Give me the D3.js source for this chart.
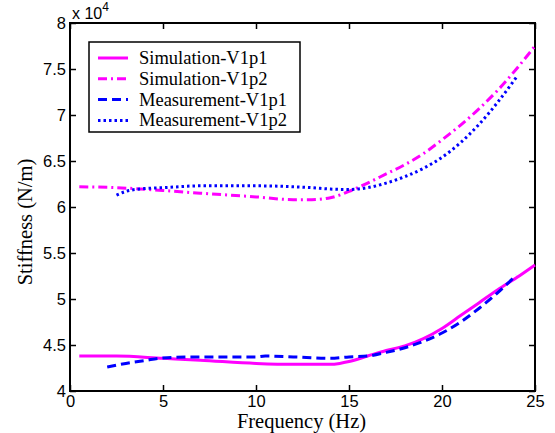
<!DOCTYPE html>
<html>
<head>
<meta charset="utf-8">
<script src="https://cdn.jsdelivr.net/npm/d3@7"></script>
<style>
  body { margin: 0; background: #fff; }
  .tick text { font-family: "Liberation Sans", Arial, sans-serif; font-size: 16.5px; fill: #000; }
</style>
</head>
<body>
<div id="chart"></div>
<script>
// frequency (Hz) and stiffness (x 1e4 N/m)
var simV1p1X = [0.5, 2.5, 5, 7, 10, 12, 14, 14.5, 15, 16, 17, 18, 19, 20, 21, 22, 23, 24, 25];
var simV1p1Y = [4.38, 4.38, 4.355, 4.335, 4.30, 4.29, 4.29, 4.30, 4.32, 4.38, 4.44, 4.49, 4.57, 4.68, 4.82, 4.96, 5.10, 5.23, 5.37];

var simV1p2X = [0.5, 2.5, 5, 7, 10, 12, 13, 14, 15, 16, 17, 18, 19, 20, 21, 22, 23, 24, 25];
var simV1p2Y = [6.22, 6.21, 6.18, 6.15, 6.11, 6.08, 6.08, 6.10, 6.17, 6.26, 6.36, 6.46, 6.58, 6.73, 6.89, 7.07, 7.27, 7.50, 7.75];

var measV1p1X = [2, 3, 4, 5, 7, 10, 10.5, 12, 14, 15, 16, 17, 18, 19, 20, 21, 22, 23, 24];
var measV1p1Y = [4.26, 4.30, 4.33, 4.36, 4.37, 4.37, 4.38, 4.37, 4.355, 4.37, 4.38, 4.42, 4.47, 4.54, 4.63, 4.75, 4.90, 5.07, 5.26];

var measV1p2X = [2.5, 3, 4, 5, 7, 10, 12, 13, 14, 15, 16, 17, 18, 19, 20, 21, 22, 23, 24];
var measV1p2Y = [6.13, 6.17, 6.20, 6.21, 6.23, 6.23, 6.22, 6.21, 6.195, 6.19, 6.21, 6.26, 6.33, 6.42, 6.54, 6.70, 6.90, 7.14, 7.41];

var seriesNames = ["Simulation-V1p1", "Simulation-V1p2", "Measurement-V1p1", "Measurement-V1p2"];
var xTicks = [0, 5, 10, 15, 20, 25];
var yTicks = [4, 4.5, 5, 5.5, 6, 6.5, 7, 7.5, 8];

var W = 555, H = 433;
var margin = {top: 23, right: 20, bottom: 42, left: 70};
var width = W - margin.left - margin.right;
var height = H - margin.top - margin.bottom;

var svg = d3.select("#chart").append("svg")
    .attr("width", W)
    .attr("height", H);

var g = svg.append("g")
    .attr("transform", "translate(" + margin.left + "," + margin.top + ")");

var x = d3.scaleLinear().domain([0, 25]).range([0, width]);
var y = d3.scaleLinear().domain([4, 8]).range([height, 0]);

// axes with inward ticks on all four sides
g.append("g")
    .attr("transform", "translate(0," + height + ")")
    .call(d3.axisBottom(x).tickValues(xTicks).tickSizeInner(-6).tickSizeOuter(0).tickPadding(4).tickFormat(d3.format("d")))
    .call(a => a.select(".domain").remove());
g.append("g")
    .call(d3.axisTop(x).tickValues(xTicks).tickSizeInner(-6).tickSizeOuter(0).tickFormat(""))
    .call(a => a.select(".domain").remove());
g.append("g")
    .call(d3.axisLeft(y).tickValues(yTicks).tickSizeInner(-6).tickSizeOuter(0).tickPadding(4).tickFormat(d => d3.format("")(d)))
    .call(a => a.select(".domain").remove());
g.append("g")
    .attr("transform", "translate(" + width + ",0)")
    .call(d3.axisRight(y).tickValues(yTicks).tickSizeInner(-6).tickSizeOuter(0).tickFormat(""))
    .call(a => a.select(".domain").remove());

g.selectAll(".tick line").attr("stroke", "#000").attr("stroke-width", 1.5);

g.append("rect")
    .attr("width", width)
    .attr("height", height)
    .attr("fill", "none")
    .attr("stroke", "#000")
    .attr("stroke-width", 2);

var line = d3.line()
    .x(d => x(d[0]))
    .y(d => y(d[1]))
    .curve(d3.curveMonotoneX);

var styles = [
    {color: "#ff00ff", dash: null},
    {color: "#ff00ff", dash: "9,4,2,4"},
    {color: "#0000ff", dash: "9,5"},
    {color: "#0000ff", dash: "2.5,3"}
];
var series = [
    d3.zip(simV1p1X, simV1p1Y),
    d3.zip(simV1p2X, simV1p2Y),
    d3.zip(measV1p1X, measV1p1Y),
    d3.zip(measV1p2X, measV1p2Y)
];

series.forEach(function(s, i) {
    g.append("path")
        .datum(s)
        .attr("fill", "none")
        .attr("stroke", styles[i].color)
        .attr("stroke-width", 3)
        .attr("stroke-dasharray", styles[i].dash)
        .attr("d", line);
});

// legend
var legend = g.append("g").attr("transform", "translate(19,19)");
legend.append("rect")
    .attr("width", 211)
    .attr("height", 90)
    .attr("fill", "#fff")
    .attr("stroke", "#000")
    .attr("stroke-width", 1.5);
seriesNames.forEach(function(name, i) {
    var ly = 16 + i * 20.8;
    legend.append("line")
        .attr("x1", 9).attr("x2", 39)
        .attr("y1", ly).attr("y2", ly)
        .attr("stroke", styles[i].color)
        .attr("stroke-width", 3)
        .attr("stroke-dasharray", styles[i].dash);
    legend.append("text")
        .attr("x", 50)
        .attr("y", ly + 6)
        .style("font-family", "'Liberation Serif', 'Times New Roman', serif")
        .style("font-size", "18.5px")
        .text(name);
});

// axis labels
svg.append("text")
    .attr("x", margin.left + width / 2 - 1)
    .attr("y", 428)
    .attr("text-anchor", "middle")
    .style("font-family", "'Liberation Serif', 'Times New Roman', serif")
    .style("font-size", "20.5px")
    .text("Frequency (Hz)");

svg.append("text")
    .attr("transform", "translate(32,222) rotate(-90)")
    .attr("text-anchor", "middle")
    .style("font-family", "'Liberation Serif', 'Times New Roman', serif")
    .style("font-size", "20.5px")
    .text("Stiffness (N/m)");

var exp = svg.append("text")
    .attr("x", 72)
    .attr("y", 19)
    .style("font-family", "'Liberation Sans', Arial, sans-serif")
    .style("font-size", "16px");
exp.append("tspan").text("x 10");
exp.append("tspan").attr("dy", -8).style("font-size", "12px").text("4");
</script>
</body>
</html>
